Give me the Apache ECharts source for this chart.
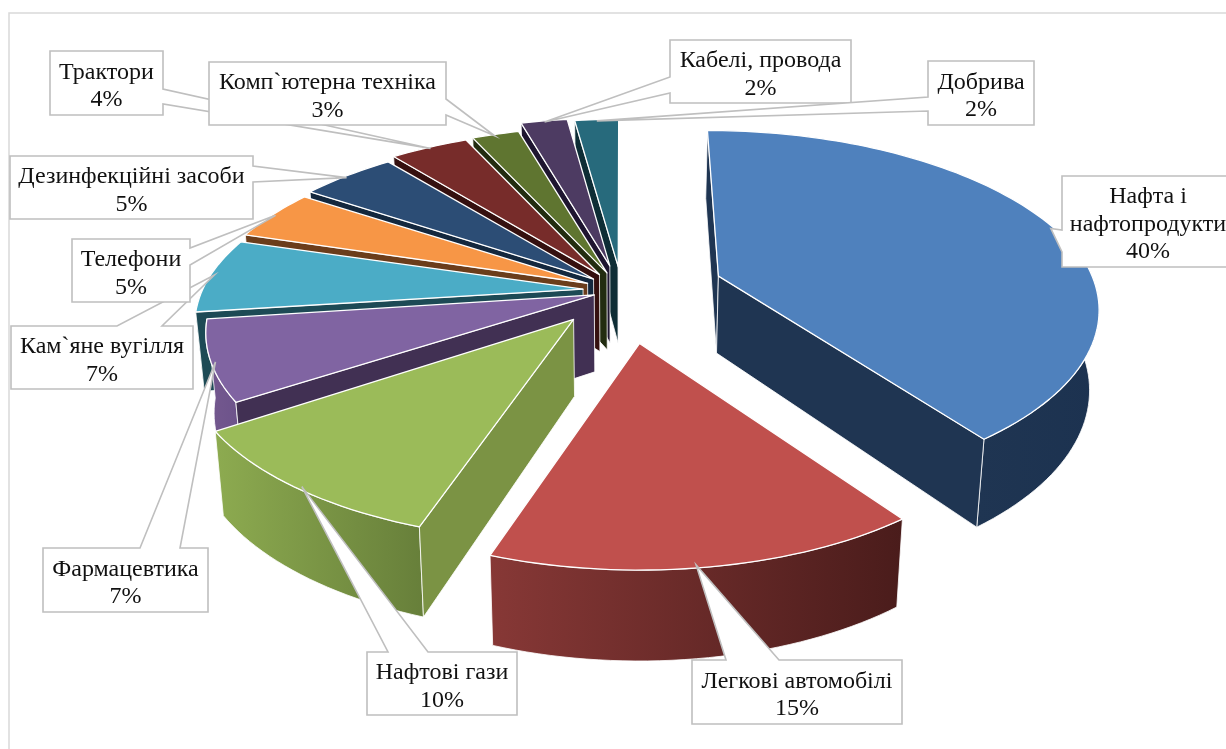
<!DOCTYPE html>
<html><head><meta charset="utf-8">
<style>html,body{margin:0;padding:0;background:#fff}#c{width:1226px;height:749px}</style>
<script src="https://cdn.jsdelivr.net/npm/echarts@6/dist/echarts.min.js"></script>
</head><body><div id="c"></div>
<script>
// data: angles, labels show them rounded
const categories = ['Нафта і\nнафтопродукти','Легкові автомобілі','Нафтові гази','Фармацевтика','Кам`яне вугілля','Телефони','Дезинфекційні засоби','Трактори','Комп`ютерна техніка','Кабелі, провода','Добрива'];
const shares = [40.4,14.6,10,7,6.78,4.69,5,4.16,2.52,2.49,2.36];

// styles
const topColors  = ['#4f81bd','#c0504d','#9bbb59','#8064a2','#4bacc6','#f79646','#2c4d75','#772c2a','#5f7530','#4d3b62','#276a7c'];
const edgeColors = ['#1f3552','#4a1c1b','#7b9344','#413053','#1d4a55','#6b3d1b','#14283e','#35100f','#222c10','#1e1530','#0e2d35'];
const wallLeft   = ['#1f3552','#873836','#8dab50','#75598f','#1d4a55','#6b3d1b','#14283e','#35100f','#222c10','#1e1530','#0e2d35'];
const wallRight  = ['#1c3250','#4a1c1b','#677f3a','#6b528a','#1d4a55','#6b3d1b','#14283e','#35100f','#222c10','#1e1530','#0e2d35'];
// how far each slice is pulled from the centre (share of the radius)
const explode = [.275,.3,.21,.08,.104,.1,.1,.11,.11,.15,.14];
const widthScale = [.98,.97,1,1,1,1,1,1,1,1,1];
const tipFrac = [.53,.53,.48,.47,.5,.5,.46,.5,.46,.5,.5];
const paintOrder = [10,9,8,7,6,5,4,3,0,2,1];
// projection settings
const P = {cx:622, cy:289.5, R:375, p:.261, s:.447, depth:77, k:.55, conv:.02, lift:-10, liftE:33, gamma:.55};
// callouts: box [x,y,w,h], two wedge base points on the box
const boxes = [[1062,176,172,91],[692,660,210,64],[367,652,150,63],[43,548,165,64],[11,326,182,63],[72,239,118,63],[10,156,243,63],[50,51,113,64],[209,62,237,63],[670,40,181,63],[928,61,106,64]];
const wedgeSide = ['l','t','t','t','t','r','r','r','r','l','l'];
const wedgeBase = [[230,252],[726,779],[388,428],[140,180],[117,162],[248,265],[166,182],[89,104],[99,115],[77,93],[97,111]];

const total = shares.reduce((a,b)=>a+b,0);
const starts = []; let acc = 0;
shares.forEach(v=>{starts.push(acc/total*360); acc+=v;});
const rad = d=>d*Math.PI/180;
function flat(x,y){ const den = 1-P.p*y; return [P.R*x/den, P.R*P.s*y/den]; }
function proj(i,theta,r,bottom){
  const span = shares[i]/total*360, mid = rad(starts[i]+span/2), e = explode[i];
  const ey = -e*Math.cos(mid);
  const off = flat(e*Math.sin(mid),ey);
  const x = r*Math.sin(rad(theta)), y = -r*Math.cos(rad(theta));
  const f = flat(x,y), den = 1-P.p*y;
  const lift = r*(P.lift+P.liftE*ey);
  let sx = P.cx+off[0]+f[0]*widthScale[i], sy = P.cy+off[1]+f[1]+lift;
  if(y<0) sx += off[0]*(1/den-1)*P.gamma;
  if(bottom){ sy += P.depth/Math.pow(den,P.k); sx = P.cx+(sx-P.cx)*(1-P.conv); }
  return [sx,sy];
}
function poly(points,fill,z2,sw){
  return {type:'polygon',shape:{points},z2,silent:true,style:{fill,stroke:'#ffffff',lineWidth:sw,lineJoin:'round'}};
}
function renderSlice(params){
  const i = params.dataIndex, a0 = starts[i], a1 = a0+shares[i]/total*360;
  const base = paintOrder.indexOf(i)*10;
  const n = Math.max(4,Math.ceil((a1-a0)/1.5));
  const thetas = [];
  for(let j=0;j<=n;j++) thetas.push(a0+(a1-a0)*j/n);
  const children = [];
  const A = proj(i,0,0,0), Ab = proj(i,0,0,1), M = proj(i,(a0+a1)/2,1,0);
  const front = thetas.filter(t=>-Math.cos(rad(t))>-.1);
  if(front.length>1){
    const pts = front.map(t=>proj(i,t,1,0)).concat(front.slice().reverse().map(t=>proj(i,t,1,1)));
    children.push(poly(pts,new echarts.graphic.LinearGradient(0,0,1,0,[{offset:0,color:wallLeft[i]},{offset:1,color:wallRight[i]}]),base+1,.8));
  }
  [a0,a1].forEach(t=>{
    const c = proj(i,t,1,0), cb = proj(i,t,1,1);
    const ex = c[0]-A[0], ey = c[1]-A[1];
    const inside = ex*(M[1]-A[1])-ey*(M[0]-A[0]);
    if(inside*ex<0) children.push(poly([A,c,cb,Ab],edgeColors[i],base+2,.8));
  });
  const top = [A].concat(thetas.map(t=>proj(i,t,1,0)));
  children.push(poly(top,topColors[i],base+3,1.3));
  return {type:'group',children};
}
function renderCallout(params){
  const i = params.dataIndex, [x,y,w,h] = boxes[i], [q0,q1] = wedgeBase[i];
  const tip = proj(i,starts[i]+shares[i]/total*360*tipFrac[i],.99,0);
  let pts;
  if(wedgeSide[i]==='l') pts=[[x,y],[x+w,y],[x+w,y+h],[x,y+h],[x,q1],tip,[x,q0]];
  else if(wedgeSide[i]==='r') pts=[[x,y],[x+w,y],[x+w,q0],tip,[x+w,q1],[x+w,y+h],[x,y+h]];
  else pts=[[x,y],[q0,y],tip,[q1,y],[x+w,y],[x+w,y+h],[x,y+h]];
  return {type:'group',children:[
    {type:'polygon',shape:{points:pts},z2:i*2+1,silent:true,style:{fill:'#fff',stroke:'#bfbfbf',lineWidth:1.6,lineJoin:'miter'}},
    {type:'text',z2:i*2+2,silent:true,style:{text:categories[i]+'\n'+Math.round(shares[i])+'%',x:x+w/2,y:y+h/2+3,align:'center',verticalAlign:'middle',font:'24px "Liberation Serif"',lineHeight:27.5,fill:'#111'}}
  ]};
}
const chart = echarts.init(document.getElementById('c'),null,{renderer:'canvas'});
chart.setOption({
  animation:false,
  backgroundColor:'#fff',
  graphic:[{type:'rect',shape:{x:9,y:13,width:1400,height:1000},z:0,silent:true,style:{fill:'none',stroke:'#d9d9d9',lineWidth:1.5}}],
  series:[
    {type:'custom',coordinateSystem:'none',z:2,silent:true,renderItem:renderSlice,data:shares,clip:false},
    {type:'custom',coordinateSystem:'none',z:3,silent:true,renderItem:renderCallout,data:shares,clip:false}
  ]
});
</script></body></html>
